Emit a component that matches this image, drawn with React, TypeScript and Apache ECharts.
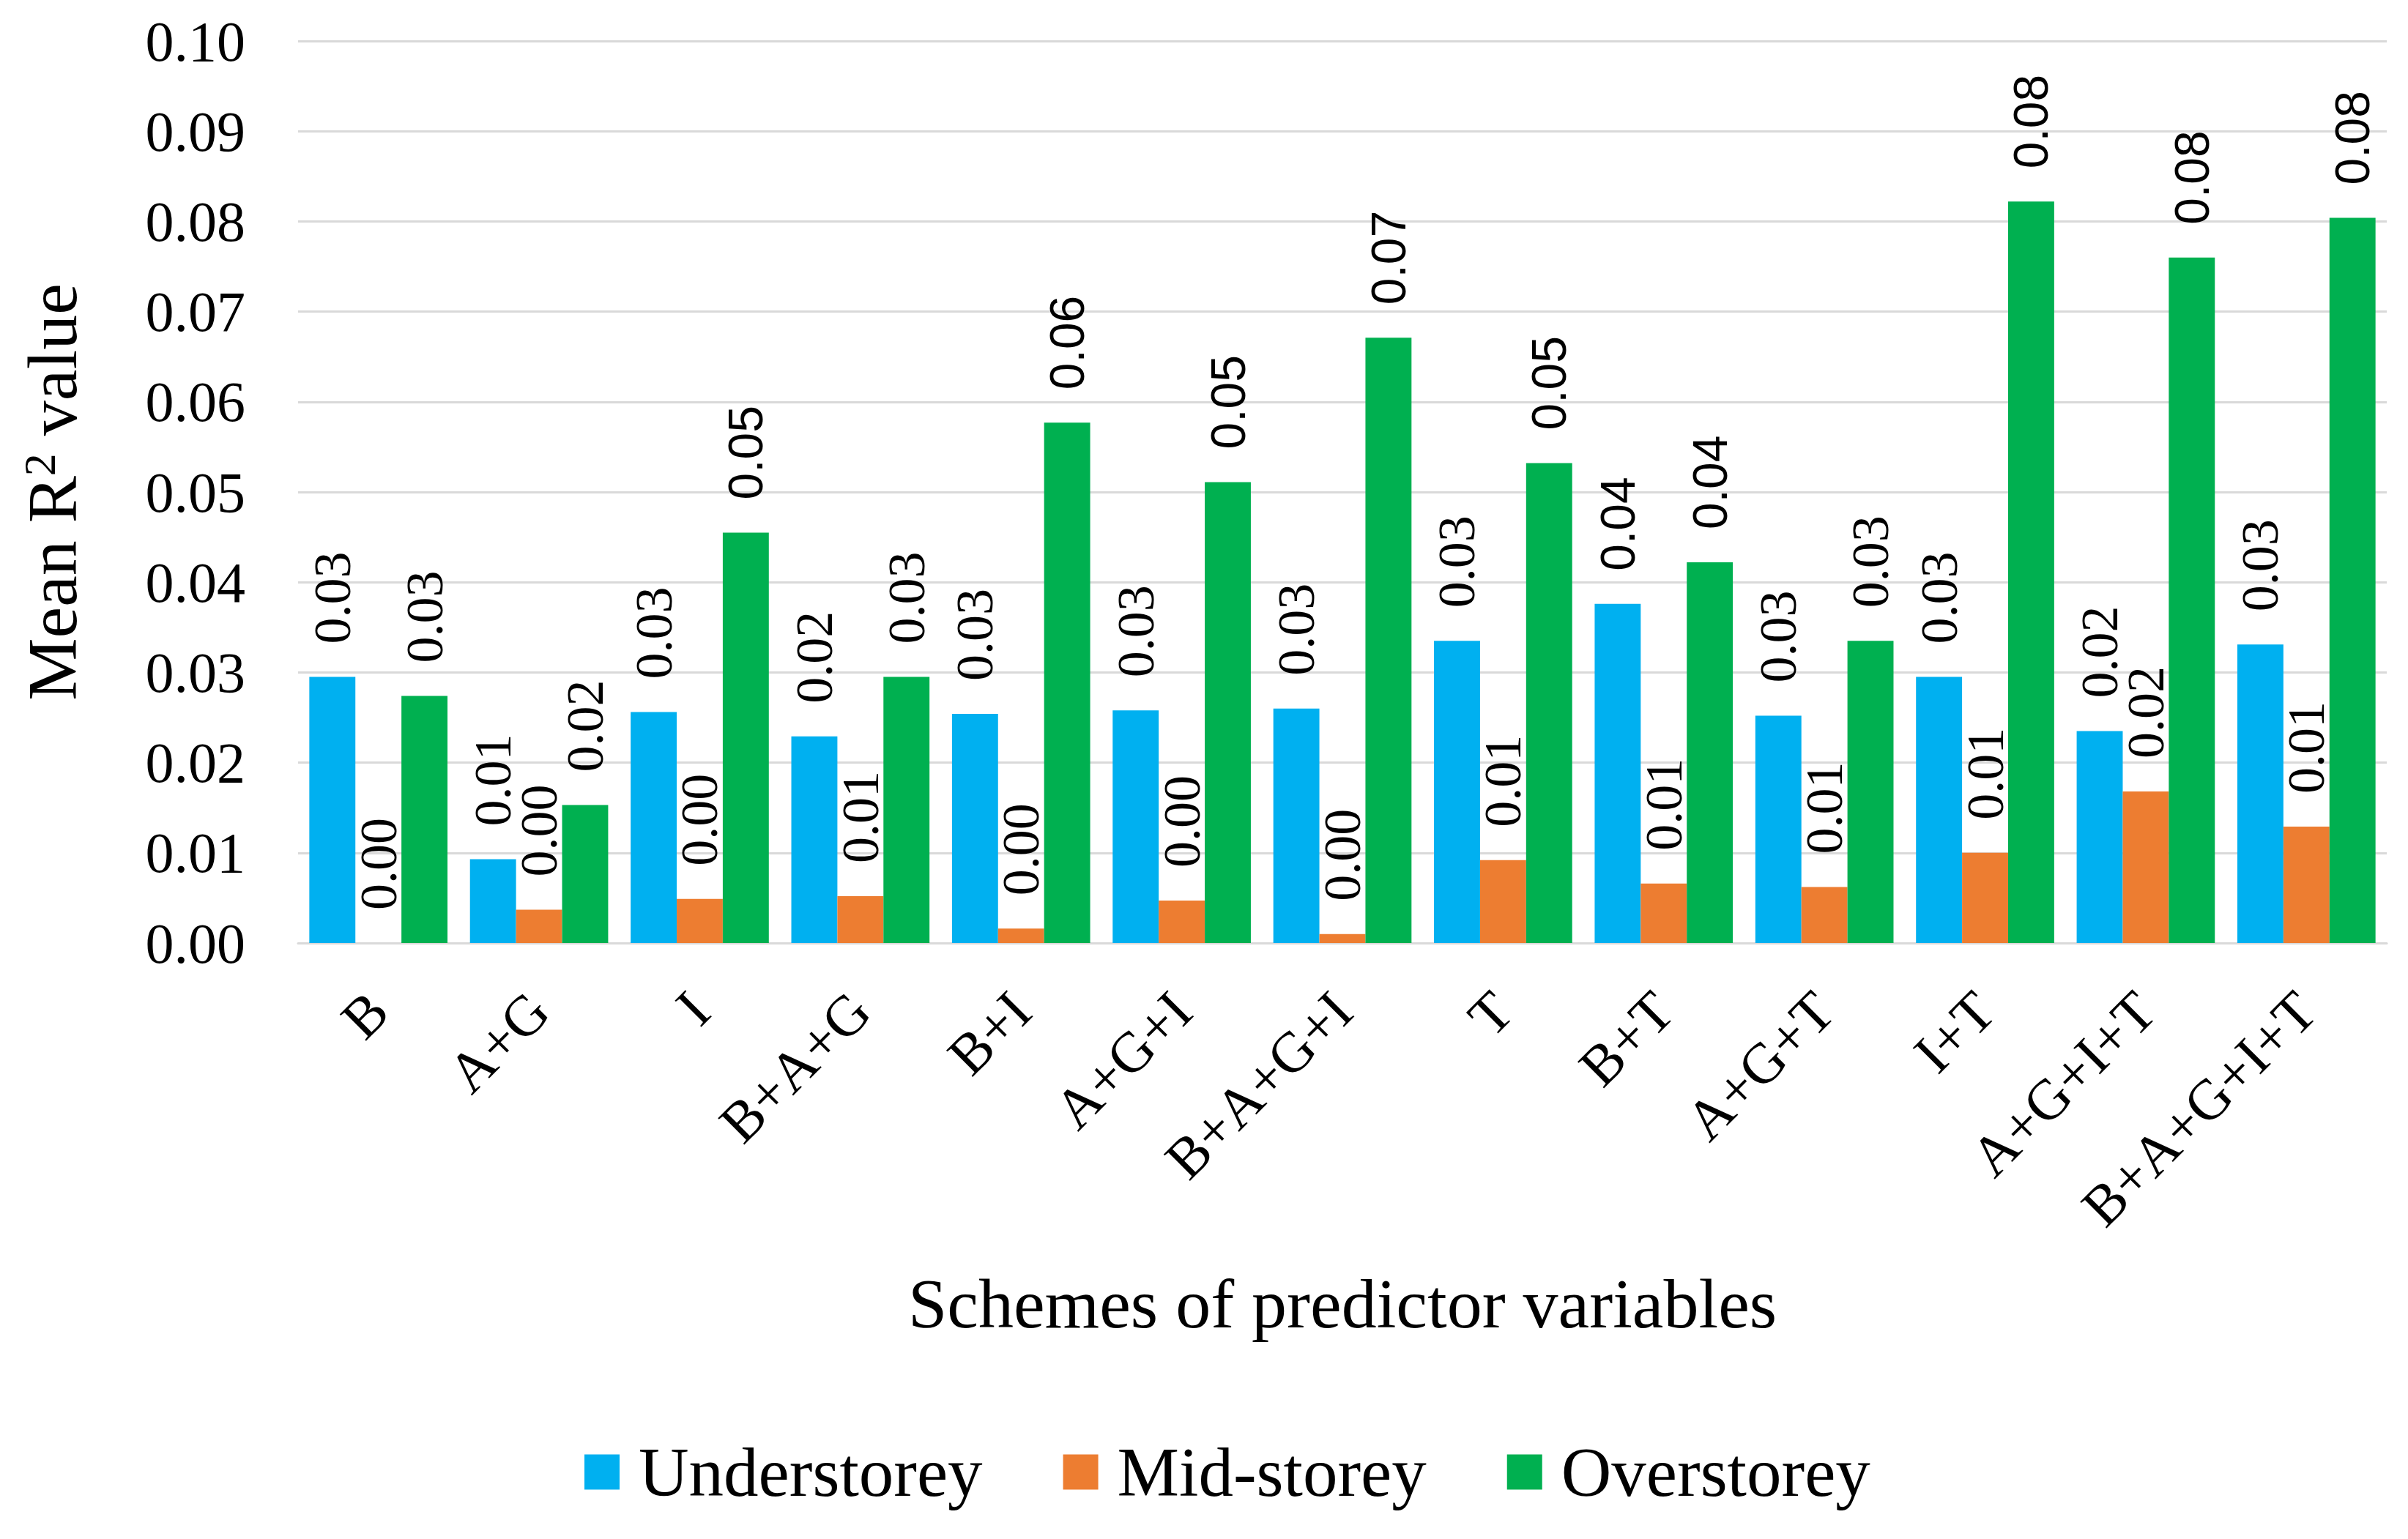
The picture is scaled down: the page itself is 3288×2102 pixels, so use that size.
import React, { useEffect, useRef } from "react";
import * as echarts from "echarts";

const categories = ["B", "A+G", "I", "B+A+G", "B+I", "A+G+I", "B+A+G+I", "T", "B+T", "A+G+T", "I+T", "A+G+I+T", "B+A+G+I+T"];
const understorey = [0.0295, 0.0093, 0.0256, 0.0229, 0.0254, 0.0258, 0.026, 0.0335, 0.0376, 0.0252, 0.0295, 0.0235, 0.0331];
const midstorey = [0.0, 0.0037, 0.0049, 0.0052, 0.0016, 0.0047, 0.001, 0.0092, 0.0066, 0.0062, 0.01, 0.0168, 0.0129];
const overstorey = [0.0274, 0.0153, 0.0455, 0.0295, 0.0577, 0.0511, 0.0671, 0.0532, 0.0422, 0.0335, 0.0822, 0.076, 0.0804];
const seriesNames = ["Understorey", "Mid-storey", "Overstorey"];
const seriesColors = ["#00B0F0", "#ED7D31", "#00B050"];

const SERIF = "'Liberation Serif', 'Times New Roman', serif";
const SANS = "'Liberation Sans', Arial, sans-serif";

export default function App() {
  const ref = useRef<HTMLDivElement>(null);
  useEffect(() => {
    if (!ref.current) return;
    const chart = echarts.init(ref.current, undefined, { renderer: "svg" });
    const allValues = [understorey, midstorey, overstorey];
    chart.setOption({
      animation: false,
      backgroundColor: "#ffffff",
      grid: { left: 407, right: 29, top: 56, bottom: 814, containLabel: false },
      legend: {
        data: seriesNames,
        left: 793,
        top: 1958,
        icon: "rect",
        itemWidth: 48,
        itemHeight: 48,
        itemGap: 110,
        textStyle: {
          fontFamily: SERIF,
          fontSize: 95,
          color: "#000",
          padding: [0, 0, 0, 21],
        },
      },
      xAxis: {
        type: "category",
        data: categories,
        name: "Schemes of predictor variables",
        nameLocation: "middle",
        nameGap: 444,
        nameTextStyle: { fontFamily: SERIF, fontSize: 96, color: "#000" },
        axisTick: { show: false },
        axisLine: { lineStyle: { color: "#D9D9D9", width: 3 } },
        axisLabel: {
          interval: 0,
          rotate: 45,
          margin: 80,
          fontFamily: SERIF,
          fontSize: 78,
          color: "#000",
        },
      },
      yAxis: {
        type: "value",
        min: 0,
        max: 0.1,
        interval: 0.01,
        name: "Mean R{sup|2} value",
        nameLocation: "middle",
        nameGap: 288,
        nameTextStyle: {
          fontFamily: SERIF,
          fontSize: 96,
          color: "#000",
          rich: {
            sup: { fontFamily: SERIF, fontSize: 62, verticalAlign: "top", color: "#000", padding: [0, 0, 30, 0] },
          },
        },
        axisLine: { show: false },
        axisTick: { show: false },
        splitLine: { lineStyle: { color: "#D9D9D9", width: 3 } },
        axisLabel: {
          margin: 72,
          fontFamily: SERIF,
          fontSize: 78,
          color: "#000",
          formatter: (v: number) => v.toFixed(2),
        },
      },
      series: allValues.map((vals, i) => ({
        type: "bar",
        name: seriesNames[i],
        data: vals,
        itemStyle: { color: seriesColors[i] },
        barGap: "0%",
        barCategoryGap: "14%",
        label: {
          show: true,
          position: "top",
          rotate: 90,
          align: "left",
          verticalAlign: "middle",
          distance: 45,
          color: "#000",
          formatter: (p: any) => {
            const t = Number(p.value).toFixed(2);
            return Math.round(Number(p.value) * 100) >= 4 ? `{s|${t}}` : `{r|${t}}`;
          },
          rich: {
            s: { fontFamily: SANS, fontSize: 66, color: "#000" },
            r: { fontFamily: SERIF, fontSize: 72, color: "#000" },
          },
        },
      })),
    });
    return () => chart.dispose();
  }, []);
  return <div ref={ref} style={{ position: "absolute", left: 0, top: 0, width: 3288, height: 2102 }} />;
}
